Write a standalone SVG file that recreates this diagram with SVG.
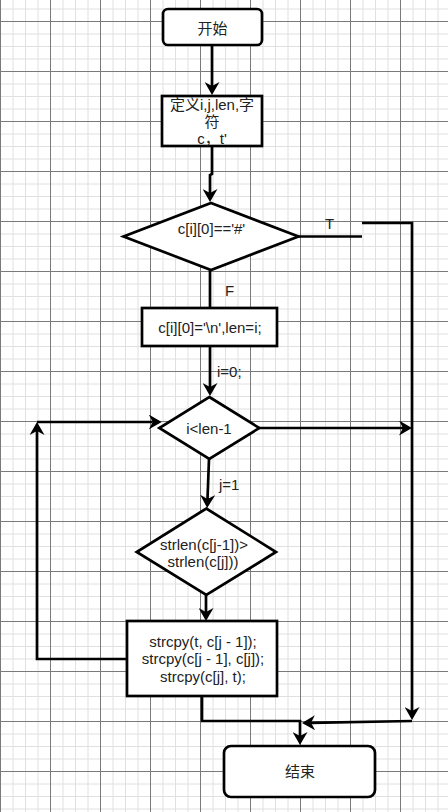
<svg xmlns="http://www.w3.org/2000/svg" width="448" height="812" viewBox="0 0 448 812">
<defs>
<pattern id="grid" patternUnits="userSpaceOnUse" x="0" y="21" width="50" height="50">
<path d="M13,0V50M25.5,0V50M38,0V50M0,13H50M0,25.5H50M0,38H50" stroke="#e0e0e0" stroke-width="1" fill="none"/>
<path d="M0.5,0V50M0,0.5H50" stroke="#7a7a7a" stroke-width="1" fill="none"/>
</pattern>
<marker id="arr" viewBox="0 0 13 15" markerWidth="13" markerHeight="15" refX="4" refY="7.5" orient="auto" markerUnits="userSpaceOnUse">
<path d="M0,0 L13,7.5 L0,15 L4,7.5 Z" fill="#000"/>
</marker>
</defs>
<style>
.shape{fill:#fff;stroke:#000;stroke-width:2.7}
.edge{fill:none;stroke:#000;stroke-width:2.7}
.t{font-family:"Liberation Sans","Noto Sans CJK SC",Arial,sans-serif;font-size:15px;fill:#222;text-anchor:middle}
.l{font-family:"Liberation Sans",Arial,sans-serif;font-size:15px;fill:#222}
</style>
<rect x="0" y="0" width="448" height="812" fill="#fff"/>
<rect x="0" y="0" width="448" height="812" fill="url(#grid)"/>

<g id="connectors">
<path class="edge" d="M212,45 V86" marker-end="url(#arr)"/>
<path class="edge" d="M212,146 V174 L210,175 V193" marker-end="url(#arr)"/>
<path class="edge" d="M210,270 V308"/>
<path class="edge" d="M298,236.5 H362"/>
<path class="edge" d="M362,223 H412 V711" marker-end="url(#arr)"/>
<path class="edge" d="M210,346 V387" marker-end="url(#arr)"/>
<path class="edge" d="M259,428 H403" marker-end="url(#arr)"/>
<path class="edge" d="M209,459 L207.5,499" marker-end="url(#arr)"/>
<path class="edge" d="M206,595 V612" marker-end="url(#arr)"/>
<path class="edge" d="M127,659 H37 V431" marker-end="url(#arr)"/>
<path class="edge" d="M37,422 H152.7" marker-end="url(#arr)"/>
<path class="edge" d="M202,696 V721 H300 V736" marker-end="url(#arr)"/>
<path class="edge" d="M412,721 L311,722.8" marker-end="url(#arr)"/>
<text class="l" x="325" y="228.5">T</text>
<text class="l" x="225" y="296">F</text>
<text class="l" x="217" y="377">i=0;</text>
<text class="l" x="219" y="490">j=1</text>
</g>

<g id="start">
<rect class="shape" x="163" y="9" width="99" height="36" rx="5"/>
<text class="t" x="212.5" y="33.5">开始</text>
</g>

<g id="define">
<rect class="shape" x="162" y="96" width="100" height="50"/>
<text class="t" x="212" y="110">定义i,j,len,字</text>
<text class="t" x="212" y="127">符</text>
<text class="t" x="212" y="144">c，t'</text>
</g>

<g id="cond1">
<polygon class="shape" points="211,203 298.5,236.5 211,270 123.5,236.5"/>
<text class="t" x="211.5" y="233.5">c[i][0]=='#'</text>
</g>

<g id="assign">
<rect class="shape" x="142" y="308" width="135" height="38"/>
<text class="t" x="210" y="333">c[i][0]='\n',len=i;</text>
</g>

<g id="cond2">
<polygon class="shape" points="209.3,397 259.3,428 209.3,459 159.3,428"/>
<text class="t" x="209" y="434">i&lt;len-1</text>
</g>

<g id="cond3">
<polygon class="shape" points="206.3,508.5 276,552 206.3,595 136.7,552"/>
<text class="t" x="204" y="550">strlen(c[j-1])&gt;</text>
<text class="t" x="203" y="567">strlen(c[j]))</text>
</g>

<g id="swap">
<rect class="shape" x="127" y="621" width="150" height="75"/>
<text class="t" x="203" y="646.7">strcpy(t, c[j - 1]);</text>
<text class="t" x="203" y="664.3">strcpy(c[j - 1], c[j]);</text>
<text class="t" x="203" y="682.3">strcpy(c[j], t);</text>
</g>

<g id="end">
<rect class="shape" x="224" y="746" width="151" height="51" rx="7"/>
<text class="t" x="300" y="776.5">结束</text>
</g>
</svg>
